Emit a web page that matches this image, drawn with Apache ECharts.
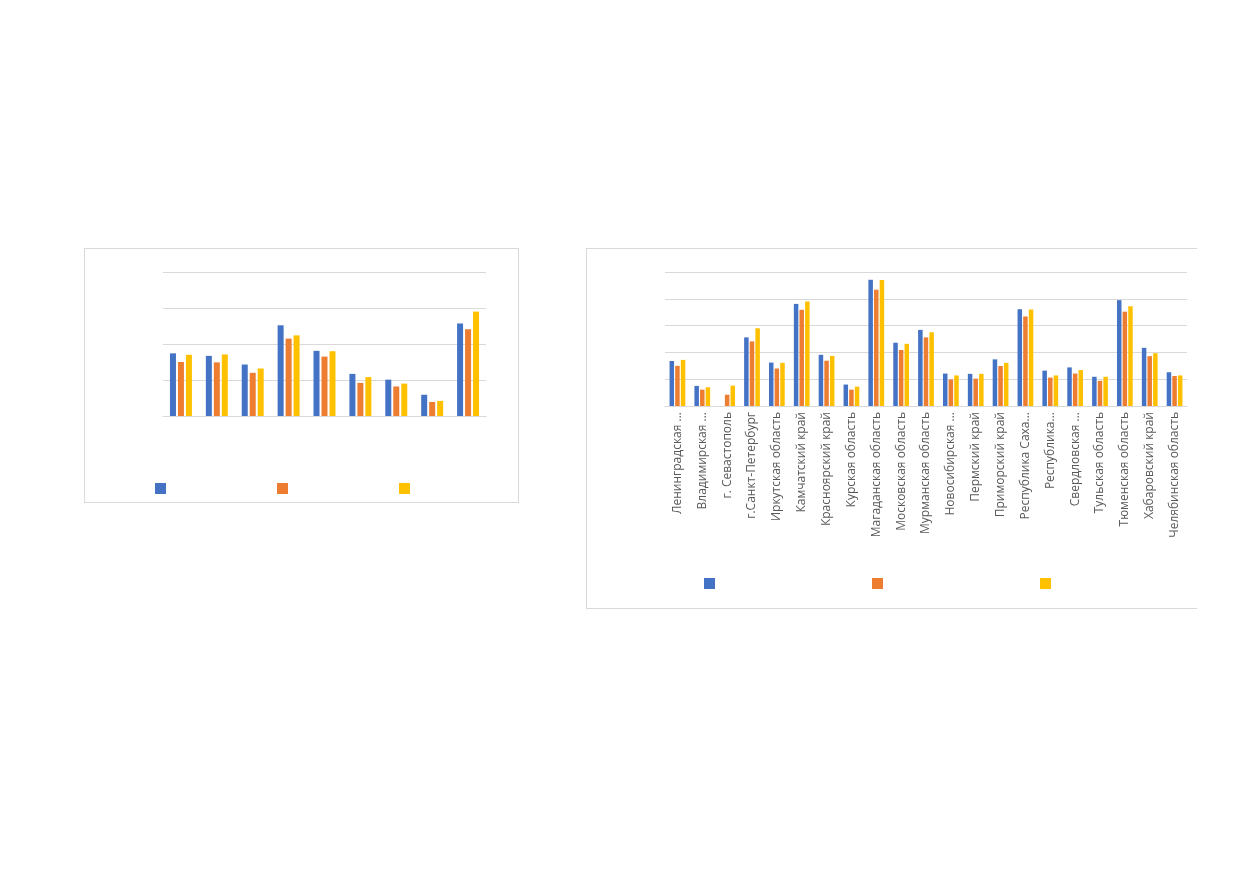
<!DOCTYPE html>
<html>
<head>
<meta charset="utf-8">
<script src="https://cdn.jsdelivr.net/npm/echarts@6/dist/echarts.min.js"></script>
<style>
  html, body { margin: 0; padding: 0; background: #fff; width: 1239px; height: 872px; overflow: hidden; }
  #c1 { position: absolute; left: 84px; top: 248px; width: 433px; height: 253px; border: 1px solid #D9D9D9; }
  #c2 { position: absolute; left: 586px; top: 248px; width: 610px; height: 359px; border: 1px solid #D9D9D9; border-right: none; }
</style>
</head>
<body>
<div id="c1"></div>
<div id="c2"></div>
<script>
// Series names (legend texts are blank in the reference)
const seriesNames = ['Ряд 1', 'Ряд 2', 'Ряд 3'];
const seriesColors = ['#4472C4', '#ED7D31', '#FFC000'];

// Left chart: 9 categories (labels not shown in the reference)
const leftCategories = ['1', '2', '3', '4', '5', '6', '7', '8', '9'];
const leftSeries1 = [17.4, 16.7, 14.3, 25.2, 18.1, 11.7, 10.1, 5.9, 25.7];
const leftSeries2 = [15.0, 14.9, 12.0, 21.5, 16.5, 9.2, 8.2, 3.9, 24.1];
const leftSeries3 = [17.0, 17.1, 13.2, 22.4, 18.0, 10.8, 9.0, 4.2, 29.0];

// Right chart: 21 regions
const rightCategories = [
  'Ленинградская ...', 'Владимирская ...', 'г. Севастополь', 'г.Санкт-Петербург',
  'Иркутская область', 'Камчатский край', 'Красноярский край', 'Курская область',
  'Магаданская область', 'Московская область', 'Мурманская область', 'Новосибирская ...',
  'Пермский край', 'Приморский край', 'Республика Саха...', 'Республика...',
  'Свердловская ...', 'Тульская область', 'Тюменская область', 'Хабаровский край',
  'Челябинская область'
];
const rightSeries1 = [16.8, 7.5, null, 25.6, 16.2, 38.1, 19.1, 8.0, 47.1, 23.6, 28.4, 12.1, 12.0, 17.4, 36.1, 13.2, 14.4, 10.9, 39.5, 21.7, 12.6];
const rightSeries2 = [15.0, 6.1, 4.2, 24.1, 14.0, 35.9, 16.9, 6.1, 43.4, 20.9, 25.6, 9.9, 10.2, 14.9, 33.4, 10.6, 12.1, 9.4, 35.2, 18.6, 11.2];
const rightSeries3 = [17.2, 7.0, 7.6, 29.0, 16.1, 39.0, 18.7, 7.2, 47.0, 23.2, 27.5, 11.4, 12.0, 16.1, 36.0, 11.4, 13.4, 10.9, 37.2, 19.7, 11.4];

const gridColor = '#D9D9D9';

function makeSeries(datas, barWidth, barGap) {
  return datas.map((d, i) => ({
    name: seriesNames[i],
    type: 'bar',
    data: d,
    barWidth: barWidth,
    barGap: barGap,
    itemStyle: { color: seriesColors[i] },
    emphasis: { disabled: true },
    animation: false
  }));
}

const c1 = echarts.init(document.getElementById('c1'));
c1.setOption({
  animation: false,
  color: seriesColors,
  grid: { left: 78, right: 32, top: 23, bottom: 86, containLabel: false },
  legend: {
    data: seriesNames,
    icon: 'rect',
    itemWidth: 11,
    itemHeight: 11,
    itemGap: 111,
    left: 65,
    top: 229,
    formatter: () => '',
    selectedMode: false
  },
  xAxis: {
    type: 'category',
    data: leftCategories,
    axisLine: { show: true, lineStyle: { color: gridColor, width: 1 } },
    axisTick: { show: false },
    axisLabel: { show: false }
  },
  yAxis: {
    type: 'value',
    min: 0, max: 40, interval: 10,
    axisLine: { show: false },
    axisTick: { show: false },
    axisLabel: { show: false },
    splitLine: { lineStyle: { color: gridColor, width: 1 } }
  },
  series: makeSeries([leftSeries1, leftSeries2, leftSeries3], 6, '33%')
});

const c2 = echarts.init(document.getElementById('c2'));
c2.setOption({
  animation: false,
  color: seriesColors,
  grid: { left: 78, right: 10, top: 23, bottom: 202, containLabel: false },
  legend: {
    data: seriesNames,
    icon: 'rect',
    itemWidth: 11,
    itemHeight: 11,
    itemGap: 157,
    left: 112,
    top: 324,
    formatter: () => '',
    selectedMode: false
  },
  xAxis: {
    type: 'category',
    data: rightCategories,
    axisLine: { show: true, lineStyle: { color: gridColor, width: 1 } },
    axisTick: { show: false },
    axisLabel: {
      rotate: 90,
      interval: 0,
      color: '#595959',
      fontSize: 12,
      fontFamily: 'Open Sans',
      margin: 6
    }
  },
  yAxis: {
    type: 'value',
    min: 0, max: 50, interval: 10,
    axisLine: { show: false },
    axisTick: { show: false },
    axisLabel: { show: false },
    splitLine: { lineStyle: { color: gridColor, width: 1 } }
  },
  series: makeSeries([rightSeries1, rightSeries2, rightSeries3], 4.5, '25%')
});
</script>
</body>
</html>
